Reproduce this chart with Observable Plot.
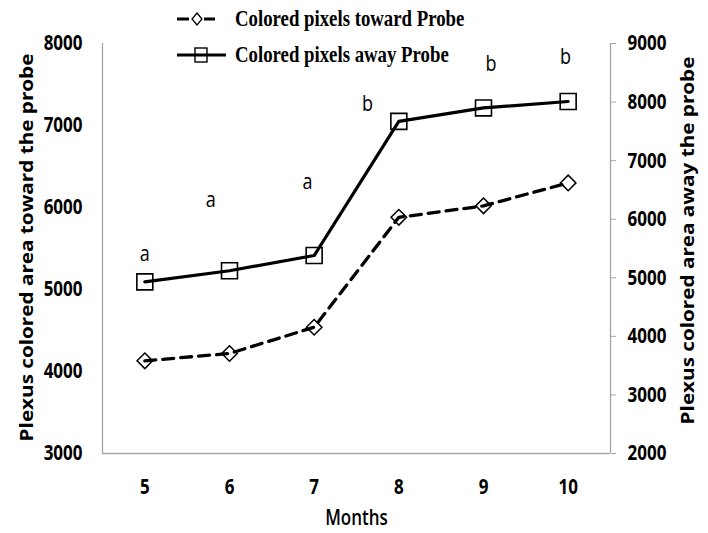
<!DOCTYPE html>
<html>
<head>
<meta charset="utf-8">
<script src="https://cdn.jsdelivr.net/npm/d3@7"></script>
<script src="https://cdn.jsdelivr.net/npm/@observablehq/plot@0.6"></script>
<style>
  html, body { margin: 0; padding: 0; background: #fff; }
  #wrap { position: relative; width: 708px; height: 533px; overflow: hidden; }
  .leg { position: absolute; left: 170px; height: 24px; display: flex; align-items: center; }
  .leg svg { display: block; }
  .leg span {
    font-family: "Liberation Serif", "Times New Roman", serif;
    font-weight: bold; font-size: 18.8px; color: #000;
    display: inline-block; transform: scaleY(1.2); margin-left: 5px; white-space: nowrap;
  }
</style>
</head>
<body>
<div id="wrap"></div>
<script>
// ---- data ----
const months = [5, 6, 7, 8, 9, 10];
const toward = [4130, 4220, 4540, 5880, 6020, 6300];   // left axis
const away = [4930, 5120, 5380, 7670, 7900, 8010];     // right axis
const letters = ["a", "a", "a", "b", "b", "b"];
const letterX = [5.0, 5.78, 6.92, 7.63, 9.09, 9.97];
const letterY = [5440, 6100, 6320, 7270, 7750, 7840];  // left-axis units
const leftTicks = [3000, 4000, 5000, 6000, 7000, 8000];
const rightTicks = [2000, 3000, 4000, 5000, 6000, 7000, 8000, 9000];
const xDomain = [4.5, 10.5];
const leftDomain = [3000, 8000];
const rightDomain = [2000, 9000];
const seriesNames = ["Colored pixels toward Probe", "Colored pixels away Probe"];
const xTitle = "Months";
const leftTitle = "Plexus colored area toward the probe";
const rightTitle = "Plexus colored area away the probe";

const k = (leftDomain[1] - leftDomain[0]) / (rightDomain[1] - rightDomain[0]);
const toLeft = v => leftDomain[0] + (v - rightDomain[0]) * k;
const fromLeft = v => rightDomain[0] + (v - leftDomain[0]) / k;

const towardData = months.map((m, i) => ({m, v: toward[i]}));
const awayData = months.map((m, i) => ({m, v: toLeft(away[i])}));
const letterData = letters.map((t, i) => ({t, x: letterX[i], y: letterY[i]}));

const axisColor = "#a6a6a6";

const chart = Plot.plot({
  width: 708,
  height: 533,
  marginLeft: 102,
  marginRight: 98,
  marginTop: 43,
  marginBottom: 80,
  style: {fontFamily: "'Open Sans', sans-serif", fontSize: "17px", color: "#000", background: "#fff"},
  x: {type: "linear", domain: xDomain},
  y: {type: "linear", domain: leftDomain},
  marks: [
    Plot.ruleY([leftDomain[0]], {stroke: axisColor, strokeWidth: 1.3}),
    Plot.ruleX(xDomain, {stroke: axisColor, strokeWidth: 1.3}),
    Plot.axisY({anchor: "left", ticks: leftTicks, tickSize: 0, tickPadding: 20, label: null,
      tickFormat: d => String(d), fontWeight: "bold", fontSize: 17}),
    Plot.axisY({anchor: "right", ticks: rightTicks.map(toLeft), tickSize: 5, tickPadding: 12, label: null,
      tickFormat: d => String(Math.round(fromLeft(d))), stroke: axisColor, fill: "#000",
      fontWeight: "bold", fontSize: 17}),
    Plot.axisX({anchor: "bottom", ticks: months, tickSize: 0, tickPadding: 27, label: null,
      tickFormat: d => String(d), fontWeight: "bold", fontSize: 17}),
    Plot.line(towardData, {x: "m", y: "v", stroke: "#000", strokeWidth: 3.3, strokeDasharray: "11,7"}),
    Plot.dot(towardData, {x: "m", y: "v", symbol: "diamond2", r: 7, stroke: "#000", strokeWidth: 1.5, fill: "none"}),
    Plot.line(awayData, {x: "m", y: "v", stroke: "#000", strokeWidth: 3.2}),
    Plot.dot(awayData, {x: "m", y: "v", symbol: "square", r: 9, stroke: "#000", strokeWidth: 1.6, fill: "none"}),
    Plot.text(letterData, {x: "x", y: "y", text: "t", fontSize: 18, fill: "#000"}),
    Plot.text([xTitle], {text: d => d, frameAnchor: "bottom", textAnchor: "middle", lineAnchor: "middle",
      dy: 65, fontSize: 17, fontWeight: 600}),
    Plot.text([leftTitle], {text: d => d, frameAnchor: "left", textAnchor: "middle", lineAnchor: "middle",
      rotate: -90, dx: -75.5, dy: -1, fontSize: 18, fontWeight: "bold"}),
    Plot.text([rightTitle], {text: d => d, frameAnchor: "right", textAnchor: "middle", lineAnchor: "middle",
      rotate: -90, dx: 77.5, dy: -8, fontSize: 18, fontWeight: "bold"})
  ]
});

const wrap = document.getElementById("wrap");
wrap.appendChild(chart);

// vertical stretch (in screen space) of all texts, mimicking the reference aspect
const S = 1.22;      // horizontal texts: stretch in their own y
const SR = 1.15;     // rotated titles: stretch along their length
for (const t of chart.querySelectorAll("text")) {
  const tr = t.getAttribute("transform") || "";
  const b = t.getBBox();
  if (tr.includes("rotate")) {
    const cx = b.x + b.width / 2;
    t.setAttribute("transform", `${tr} translate(${cx},0) scale(${SR},1) translate(${-cx},0)`);
  } else {
    const cy = b.y + b.height / 2;
    t.setAttribute("transform", `${tr} translate(0,${cy}) scale(1,${S}) translate(0,${-cy})`);
  }
}

// legend (overlaid at the top, as in the reference)
const legendRows = [
  {name: seriesNames[0], top: 18.5 - 12, kind: "dash"},
  {name: seriesNames[1], top: 54.5 - 12, kind: "solid"}
];
for (const row of legendRows) {
  const div = document.createElement("div");
  div.className = "leg";
  div.style.top = row.top + "px";
  let sym;
  if (row.kind === "dash") {
    sym = `<svg width="60" height="24"><line x1="7" x2="45" y1="12" y2="12" stroke="#000" stroke-width="3" stroke-dasharray="12,15"/>
      <path d="M27,6 L32,12 L27,18 L22,12 Z" fill="#fff" stroke="#000" stroke-width="1.3"/></svg>`;
  } else {
    sym = `<svg width="60" height="24"><line x1="7" x2="56" y1="12" y2="12" stroke="#000" stroke-width="3"/>
      <rect x="25" y="5" width="12" height="14" fill="none" stroke="#000" stroke-width="1.4"/></svg>`;
  }
  div.innerHTML = sym + `<span>${row.name}</span>`;
  wrap.appendChild(div);
}
</script>
</body>
</html>
